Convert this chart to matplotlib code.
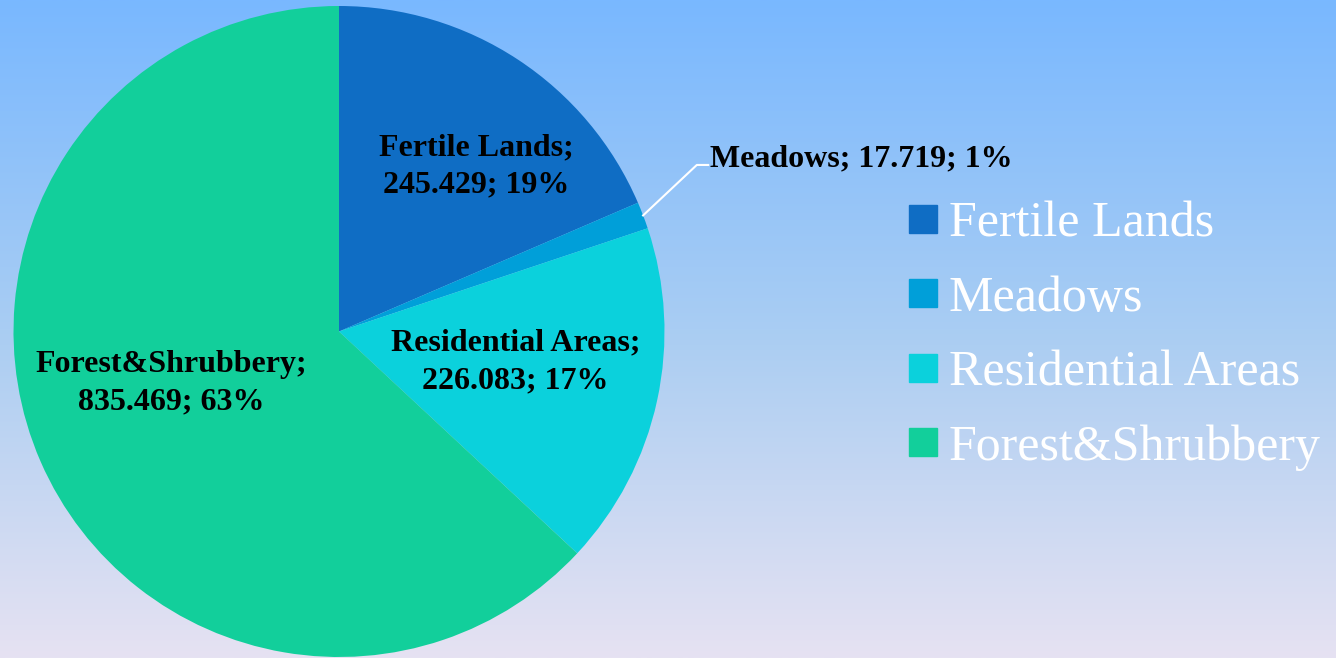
import numpy as np
import matplotlib
matplotlib.use("Agg")
from matplotlib import pyplot as plt
from matplotlib.lines import Line2D
from matplotlib.colors import LinearSegmentedColormap

categories = ["Fertile Lands", "Meadows", "Residential Areas", "Forest&Shrubbery"]
values = [245.429, 17.719, 226.083, 835.469]
value_labels = ["245.429", "17.719", "226.083", "835.469"]
colors = ["#0f6dc4", "#009fd9", "#0bd1dc", "#12cf9b"]

plt.rcParams["font.family"] = ["Liberation Serif", "DejaVu Serif"]

W, H = 1336, 658
fig = plt.figure(figsize=(W / 100, H / 100), dpi=100)

# background gradient
bg = fig.add_axes([0, 0, 1, 1])
grad = np.linspace(0, 1, 256).reshape(-1, 1)
cmap = LinearSegmentedColormap.from_list("bg", ["#79b8ff", "#a9cdf3", "#e6e2f2"])
bg.imshow(grad, aspect="auto", cmap=cmap, extent=[0, 1, 0, 1], origin="upper")
bg.set_axis_off()

# pie axes: center (339, 331.5), radius 325.5 px
cx, cy, R = 339, 331.5, 325.5
ax = fig.add_axes([(cx - R) / W, (H - cy - R) / H, 2 * R / W, 2 * R / H])
wedges, _ = ax.pie(values, colors=colors, startangle=90, counterclock=False,
                   radius=1, wedgeprops=dict(linewidth=0))
ax.set_xlim(-1, 1)
ax.set_ylim(-1, 1)
ax.set_aspect("equal")
ax.set_axis_off()

total = sum(values)
pcts = [round(v / total * 100) for v in values]

# label placement: (radius factor, angle offset deg)
label_place = [(0.66, -6.5), None, (0.55, 2.5), (0.54, -6.5)]
for w, cat, vl, p, place in zip(wedges, categories, value_labels, pcts, label_place):
    if place is None:
        continue
    mid = (w.theta1 + w.theta2) / 2 + place[1]
    x = place[0] * np.cos(np.radians(mid))
    y = place[0] * np.sin(np.radians(mid))
    ax.text(x, y, f"{cat};\n{vl}; {p}%", ha="center", va="center",
            fontsize=23, fontweight="bold", color="black", linespacing=1.38)

# Meadows with leader line
w = wedges[1]
mid = np.radians((w.theta1 + w.theta2) / 2)
ex, ey = np.cos(mid), np.sin(mid)
kx, ky = ex + 0.165, ey + 0.155
ax.plot([ex, kx, kx + 0.035], [ey, ky, ky], color="white", lw=1.5, clip_on=False)
ax.text(kx + 0.04, ky + 0.02, f"{categories[1]}; {value_labels[1]}; {pcts[1]}%",
        ha="left", va="center", fontsize=23, fontweight="bold", color="black")

handles = [Line2D([], [], marker="s", linestyle="none", markersize=19.5,
                  markerfacecolor=c, markeredgecolor=c) for c in colors]
fig.legend(handles, categories, loc="center left", bbox_to_anchor=(854 / W, 1 - 335.5 / H),
           frameon=False, fontsize=36, labelcolor="white", handletextpad=0.05,
           labelspacing=0.56, handlelength=0.95)

fig.savefig("out.png", dpi=100)
